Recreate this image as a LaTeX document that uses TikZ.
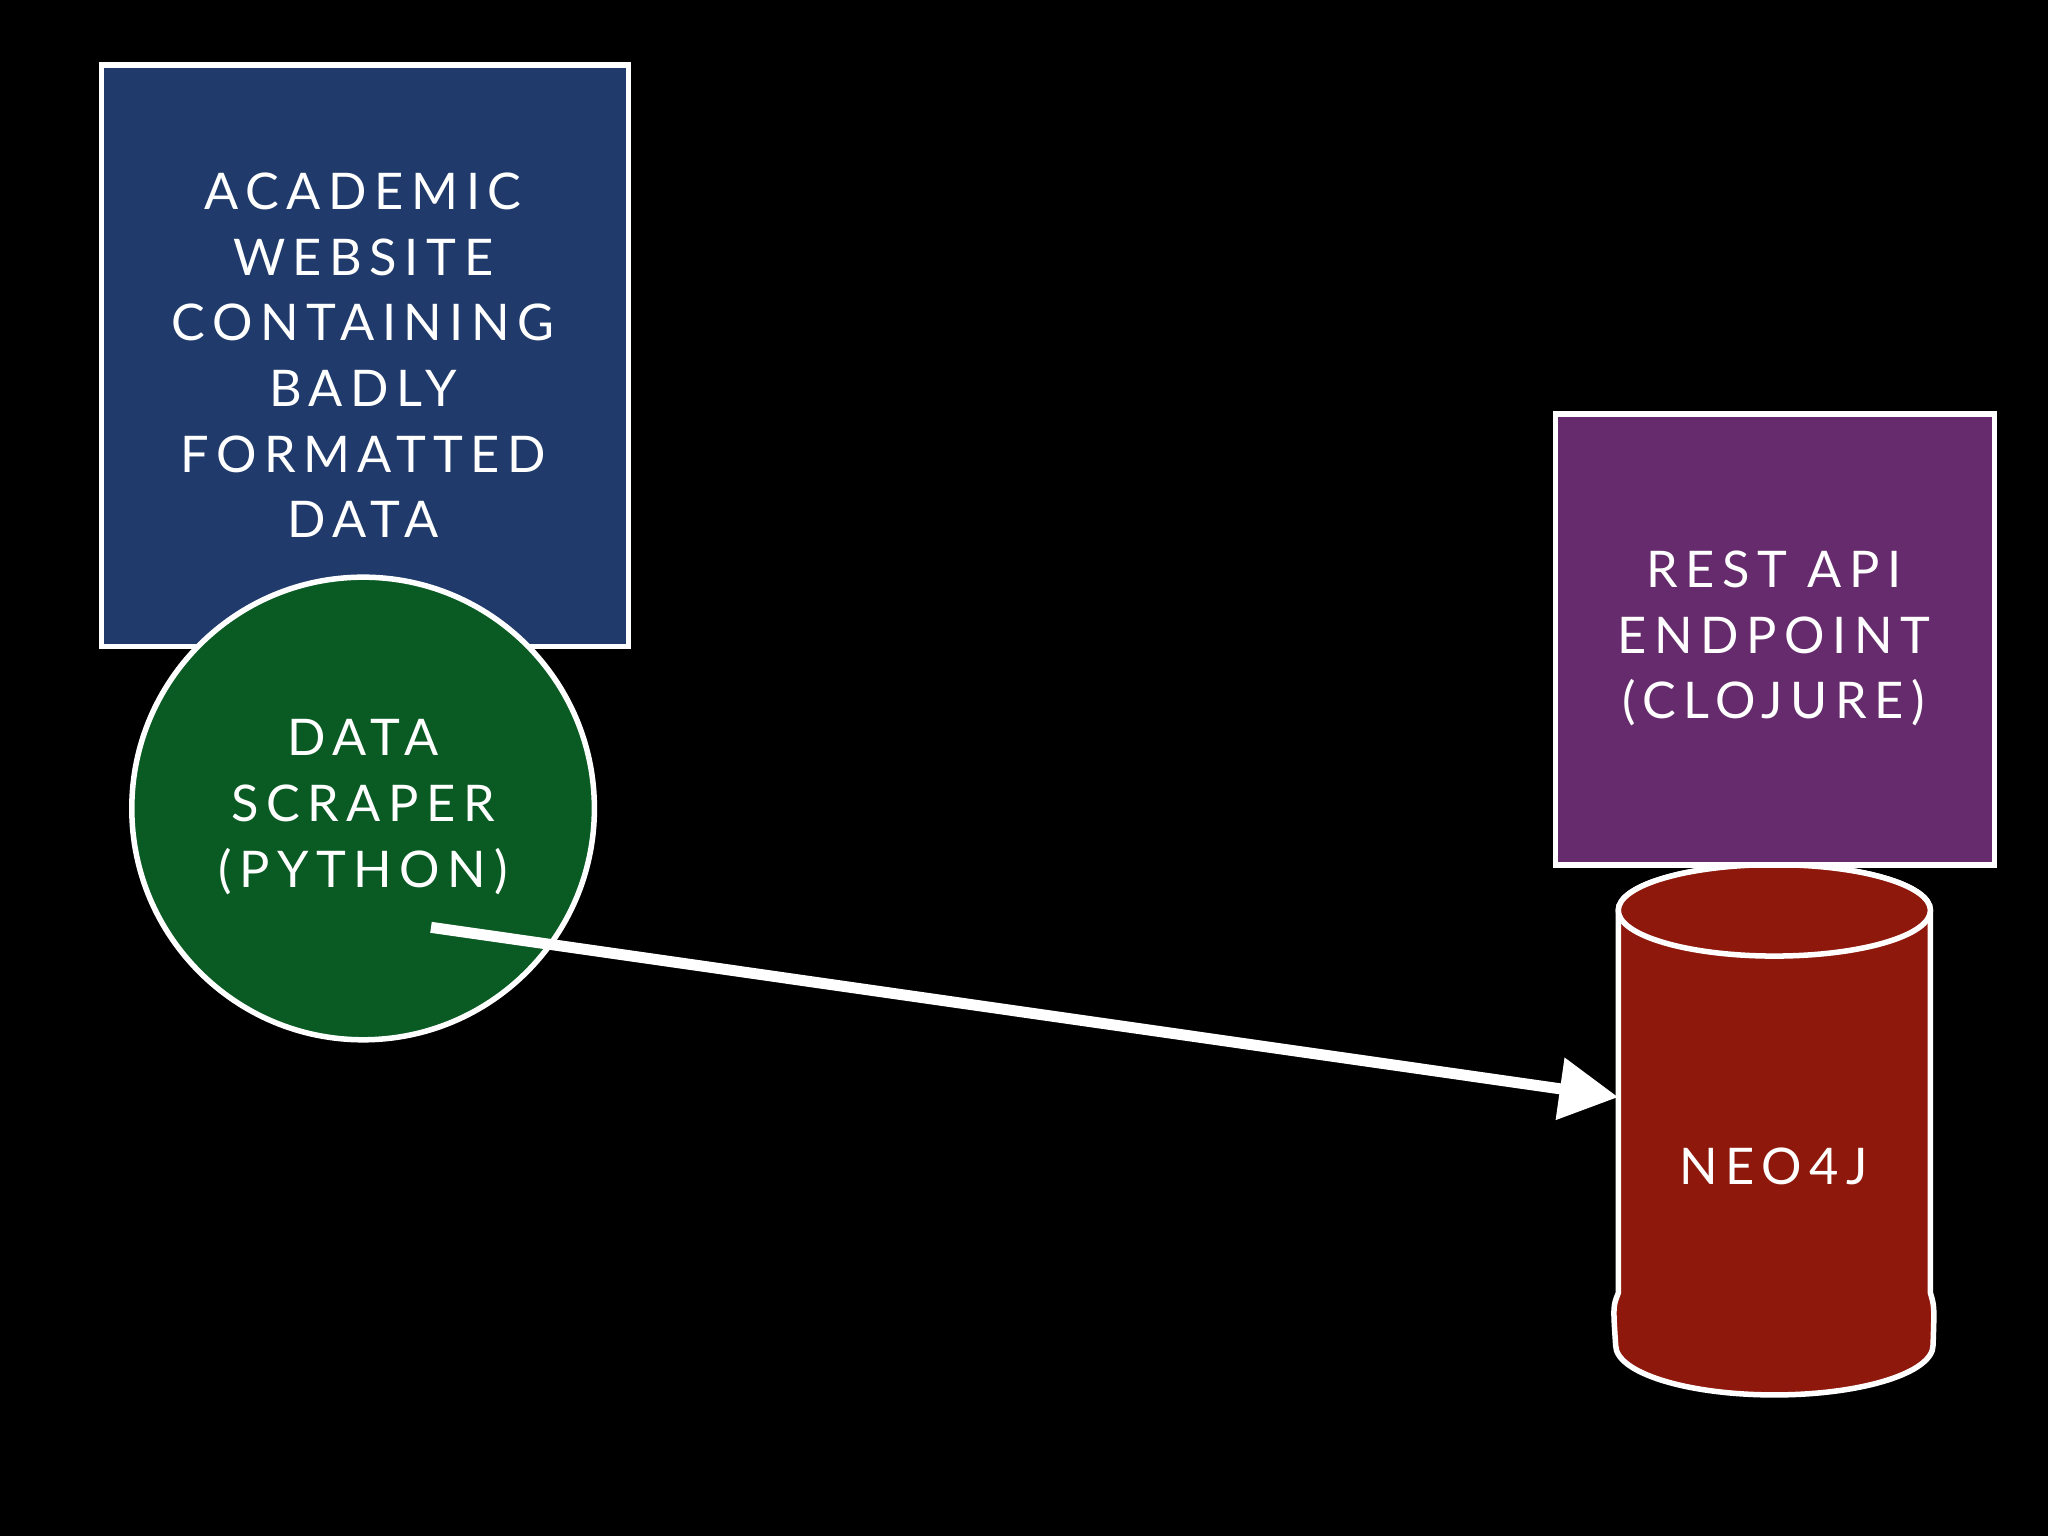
\documentclass[tikz,border=0pt]{standalone}
\usepackage{fontspec}
\setmainfont{Lato}[LetterSpace=15]
\usetikzlibrary{arrows.meta}
\definecolor{bluebox}{HTML}{1F3A6B}
\definecolor{greenc}{HTML}{0A5A24}
\definecolor{purp}{HTML}{652B6C}
\definecolor{redc}{HTML}{8E180B}
\begin{document}
\begin{tikzpicture}[x=0.01cm,y=-0.01cm,
  lbl/.style={text=white,font=\fontsize{11}{14.3}\selectfont,align=center},
  box/.style={draw=white,line width=1.2pt}]
\useasboundingbox[fill=black] (0,0) rectangle (1568,1176);
\node[box,fill=bluebox,minimum width=4.03cm,minimum height=4.45cm] (web) at (279.5,272.5) {};
\node[lbl] at (278,272) {ACADEMIC\\WEBSITE\\CONTAINING\\BADLY\\FORMATTED\\DATA};
\node[box,circle,fill=greenc,minimum size=3.54cm,inner sep=0pt] (scraper) at (278,619) {};
\node[lbl] at (278,618) {DATA\\SCRAPER\\(PYTHON)};
% cylinder
\draw[box,fill=redc] (1239,697) -- (1239,990) .. controls (1235,1000) .. (1237,1030) arc[start angle=180,end angle=0,x radius=121.5,y radius=38] .. controls (1481,1000) .. (1478,990) -- (1478,697) arc[start angle=0,end angle=-180,x radius=119.5,y radius=35];
\draw[box,fill=redc] (1358.5,697) ellipse[x radius=119.5,y radius=35];
\node[lbl] (neo) at (1358,893) {NEO4J};
\node[box,fill=purp,minimum width=3.36cm,minimum height=3.45cm] (api) at (1359,489.5) {};
\node[lbl] at (1358,489) {REST API\\ENDPOINT\\(CLOJURE)};
\coordinate (start) at (330,710);
\coordinate (end) at (1239,840);
\draw[white,line width=2.4pt,-{Triangle[length=0.45cm,width=0.46cm]}] (start) -- (end);
\end{tikzpicture}
\end{document}
